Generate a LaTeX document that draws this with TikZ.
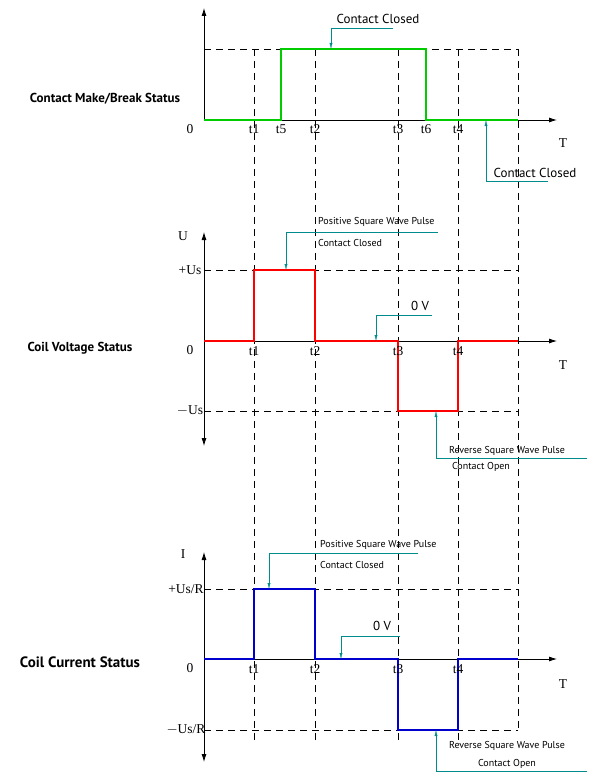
\documentclass[tikz,border=0pt]{standalone}
\usepackage{fontspec}
\setmainfont{Liberation Serif}
\newfontfamily\lblfont{PT Sans}
\usetikzlibrary{arrows.meta}
\definecolor{callout}{RGB}{0,140,140}
\tikzset{
  axis/.style={thick,-{Latex[length=8pt,width=5pt]}},
  grid/.style={dashed,dash pattern=on 7pt off 5pt,thin},
  signal/.style={line width=1.6pt},
  callline/.style={callout,thin},
  callarrow/.style={callout,thin,-{Latex[length=6pt,width=3pt]}},
  calltext/.style={font=\lblfont\fontsize{10}{11}\selectfont,inner sep=1pt},
  bigtext/.style={font=\lblfont\fontsize{13}{14}\selectfont,inner sep=1pt},
  title/.style={font=\lblfont\bfseries\fontsize{13}{14}\selectfont},
  tick/.style={font=\fontsize{13.5}{14}\selectfont,inner sep=1pt}
}
\begin{document}
\begin{tikzpicture}[x=1pt,y=-1pt]
  \useasboundingbox (0,0) rectangle (602,784);
  % guide lines
  \foreach \x in {254,315,398,458} \draw[grid] (\x,49) -- (\x,742);
  \draw[grid] (518,49) -- (518,730);
  \foreach \y in {49,270,411,589,730} \draw[grid] (204,\y) -- (518,\y);

  % contact make/break status
  \coordinate (o1) at (204,120);
  \draw[axis] (o1) -- (204,8);
  \draw[axis] (o1) -- (557,120);
  \draw[green!80!black,signal] (o1) -- (281,120) -- (281,49) -- (426,49) -- (426,120) -- (518,120);
  \node[tick] at (190,129) {0};
  \foreach \x/\t in {254/t1,281/t5,315/t2,398/t3,426/t6,458/t4} \node[tick] at (\x,129) {\t};
  \node[tick] at (563,143) {T};
  \node[title] at (105,99) {Contact Make/Break Status};
  \coordinate (c1) at (393,28);
  \coordinate (c1a) at (331,28);
  \draw[callline] (c1) -- (c1a);
  \draw[callarrow] (c1a) -- (331,49);
  \node[bigtext] at (378,19) {Contact Closed};
  \coordinate (c2) at (548,181);
  \coordinate (c2a) at (486,181);
  \draw[callline] (c2) -- (c2a);
  \draw[callarrow] (c2a) -- (486,120);
  \node[bigtext] at (535,173) {Contact Closed};

  % coil voltage status
  \coordinate (o2) at (204,341);
  \draw[axis] (204,341) -- (204,232);
  \draw[axis] (204,341) -- (204,446);
  \draw[axis] (o2) -- (557,341);
  \draw[red,signal] (o2) -- (254,341) -- (254,270) -- (315,270) -- (315,341) -- (398,341) -- (398,411) -- (458,411) -- (458,341) -- (518,341);
  \node[tick] at (183,236) {U};
  \node[tick] at (190,270) {+Us};
  \node[tick] at (190,350) {0};
  \node[tick] at (190,411) {$-$Us};
  \foreach \x/\t in {254/t1,315/t2,398/t3,458/t4} \node[tick] at (\x,351) {\t};
  \node[tick] at (563,365) {T};
  \node[title] at (80,348) {Coil Voltage Status};
  \coordinate (v1) at (438,232);
  \coordinate (v1a) at (286,232);
  \draw[callline] (v1) -- (v1a);
  \draw[callarrow] (v1a) -- (286,270);
  \node[calltext,anchor=west] at (317,222) {Positive Square Wave Pulse};
  \node[calltext,anchor=west] at (317,243) {Contact Closed};
  \coordinate (v2) at (432,315);
  \coordinate (v2a) at (376,315);
  \draw[callline] (v2) -- (v2a);
  \draw[callarrow] (v2a) -- (376,341);
  \node[bigtext] at (420,306) {0 V};
  \coordinate (v3) at (587,458);
  \coordinate (v3a) at (436,458);
  \draw[callline] (v3) -- (v3a);
  \draw[callarrow] (v3a) -- (436,411);
  \node[calltext] at (507,451) {Reverse Square Wave Pulse};
  \node[calltext] at (481,467) {Contact Open};

  % coil current status
  \coordinate (o3) at (204,659);
  \draw[axis] (204,659) -- (204,552);
  \draw[axis] (204,659) -- (204,762);
  \draw[axis] (o3) -- (557,659);
  \draw[blue!80!black,signal] (o3) -- (254,659) -- (254,589) -- (315,589) -- (315,659) -- (398,659) -- (398,730) -- (458,730) -- (458,659) -- (518,659);
  \node[tick] at (183,554) {I};
  \node[tick] at (186,589) {+Us/R};
  \node[tick] at (190,668) {0};
  \node[tick] at (186,730) {$-$Us/R};
  \foreach \x/\t in {254/t1,315/t2,398/t3,458/t4} \node[tick] at (\x,669) {\t};
  \node[tick] at (563,684) {T};
  \node[title,font=\lblfont\bfseries\fontsize{15}{16}\selectfont] at (80,662) {Coil Current Status};
  \coordinate (i1) at (418,553);
  \coordinate (i1a) at (269,553);
  \draw[callline] (i1) -- (i1a);
  \draw[callarrow] (i1a) -- (269,589);
  \node[calltext,anchor=west] at (319,545) {Positive Square Wave Pulse};
  \node[calltext,anchor=west] at (319,565) {Contact Closed};
  \coordinate (i2) at (400,636);
  \coordinate (i2a) at (341,636);
  \draw[callline] (i2) -- (i2a);
  \draw[callarrow] (i2a) -- (341,659);
  \node[bigtext] at (382,626) {0 V};
  \coordinate (i3) at (587,771);
  \coordinate (i3a) at (436,771);
  \draw[callline] (i3) -- (i3a);
  \draw[callarrow] (i3a) -- (436,730);
  \node[calltext] at (507,746) {Reverse Square Wave Pulse};
  \node[calltext] at (507,764) {Contact Open};
\end{tikzpicture}
\end{document}
